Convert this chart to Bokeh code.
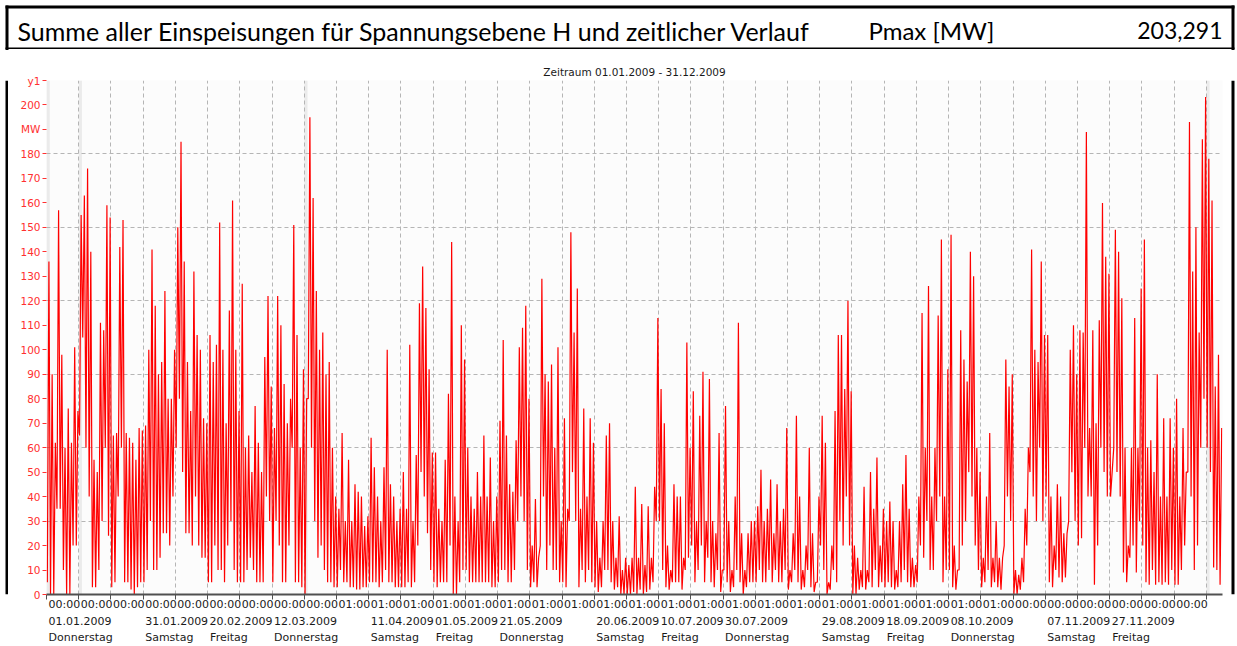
from datetime import date, timedelta

from bokeh.core.properties import value
from bokeh.embed import file_html
from bokeh.layouts import column, row
from bokeh.models import ColumnDataSource, FixedTicker, Grid, LinearAxis, Range1d
from bokeh.plotting import figure
from bokeh.resources import INLINE

# ---------------- data ----------------
title_text = "Summe aller Einspeisungen für Spannungsebene H und zeitlicher Verlauf"
unit_text = "Pmax [MW]"
pmax_text = "203,291"
period_text = "Zeitraum 01.01.2009 - 31.12.2009"
year_start = date(2009, 1, 1)
dst_start = date(2009, 3, 29)
dst_end = date(2009, 10, 25)

# daily maxima / minima of the summed infeed in MW (01.01. .. 31.12.2009)
daily_max = [
    136, 90, 62, 157, 98, 60, 76, 62, 101, 75,
    155, 163, 174, 140, 55, 50, 111, 108, 159, 154,
    65, 66, 142, 153, 66, 64, 62, 55, 68, 67,
    69, 100, 141, 118, 90, 95, 124, 80, 80, 100,
    150, 185, 136, 95, 75, 132, 106, 100, 72, 70,
    106, 95, 102, 152, 100, 70, 116, 161, 100, 75,
    127, 60, 65, 50, 77, 62, 50, 97, 122, 85,
    68, 122, 110, 86, 70, 80, 151, 106, 60, 92,
    80, 195, 162, 124, 100, 107, 90, 95, 60, 40,
    35, 66, 30, 55, 30, 45, 42, 40, 28, 32,
    64, 52, 40, 30, 52, 100, 45, 40, 30, 35,
    50, 35, 102, 30, 57, 119, 134, 117, 92, 58,
    58, 35, 30, 55, 82, 144, 40, 30, 110, 96,
    60, 40, 35, 50, 40, 65, 40, 56, 30, 40,
    71, 104, 65, 45, 42, 63, 101, 109, 118, 80,
    20, 39, 15, 129, 90, 87, 94, 60, 101, 30,
    72, 35, 148, 107, 125, 35, 76, 40, 72, 62,
    30, 15, 30, 65, 70, 30, 15, 32, 10, 15,
    12, 15, 44, 15, 37, 12, 36, 15, 44, 113,
    84, 70, 20, 10, 45, 40, 40, 15, 103, 60,
    83, 30, 73, 91, 30, 88, 30, 25, 66, 10,
    77, 30, 10, 40, 111, 25, 10, 25, 30, 30,
    36, 51, 30, 35, 47, 25, 45, 30, 35, 68,
    10, 25, 73, 40, 10, 20, 60, 25, 5, 40,
    73, 62, 5, 20, 75, 106, 106, 84, 120, 83,
    20, 15, 10, 44, 10, 50, 35, 56, 20, 35,
    30, 38, 30, 10, 30, 45, 57, 35, 15, 12,
    40, 115, 60, 126, 40, 60, 114, 145, 40, 92,
    147, 20, 10, 108, 96, 87, 140, 130, 60, 50,
    15, 40, 66, 15, 30, 15, 15, 96, 85, 90,
    10, 8, 15, 35, 60, 141, 100, 95, 136, 106,
    106, 40, 20, 45, 40, 25, 25, 100, 110, 90,
    108, 107, 189, 68, 108, 70, 112, 160, 138, 131,
    50, 149, 140, 121, 60, 20, 60, 113, 60, 125,
    145, 60, 63, 50, 90, 40, 72, 40, 72, 60,
    80, 40, 68, 50, 193, 132, 150, 107, 186, 203.3,
    178, 161, 85, 98, 68,
]
daily_min = [
    5, 0, 0, 35, 35, 10, 0, 0, 20, 20,
    65, 105, 60, 40, 3, 3, 10, 30, 60, 24,
    3, 5, 40, 60, 5, 5, 2, 0, 3, 5,
    5, 10, 30, 10, 10, 15, 25, 25, 20, 40,
    60, 80, 50, 25, 25, 20, 40, 20, 15, 15,
    5, 5, 20, 10, 10, 5, 20, 30, 10, 5,
    5, 5, 10, 15, 10, 5, 5, 5, 40, 30,
    5, 30, 20, 5, 5, 20, 60, 5, 5, 3,
    0, 80, 60, 30, 15, 20, 10, 5, 5, 3,
    3, 10, 5, 5, 3, 3, 2, 2, 3, 3,
    5, 5, 5, 3, 5, 10, 5, 5, 3, 3,
    3, 3, 5, 3, 5, 20, 50, 40, 25, 10,
    5, 3, 5, 5, 5, 20, 0, 0, 5, 10,
    10, 5, 5, 5, 5, 5, 5, 5, 3, 3,
    5, 10, 10, 5, 5, 10, 30, 40, 30, 10,
    3, 5, 3, 20, 40, 10, 20, 10, 10, 5,
    5, 3, 30, 50, 30, 3, 10, 5, 10, 5,
    3, 1, 3, 10, 10, 5, 2, 3, 0, 0,
    0, 0, 1, 0, 2, 0, 1, 2, 5, 30,
    30, 10, 3, 2, 5, 5, 5, 2, 10, 15,
    20, 5, 10, 20, 5, 15, 5, 3, 10, 1,
    10, 5, 1, 3, 10, 5, 0, 3, 5, 5,
    5, 10, 5, 5, 10, 5, 10, 5, 5, 10,
    2, 5, 10, 5, 2, 3, 10, 3, 1, 5,
    20, 10, 0, 2, 10, 5, 30, 20, 40, 20,
    0, 0, 2, 3, 2, 5, 3, 10, 3, 5,
    3, 5, 3, 2, 3, 5, 10, 5, 3, 3,
    5, 20, 15, 30, 10, 10, 30, 40, 5, 10,
    10, 3, 2, 10, 20, 30, 50, 40, 20, 10,
    3, 5, 10, 3, 5, 3, 2, 20, 40, 30,
    0, 0, 2, 5, 20, 50, 40, 30, 60, 30,
    40, 5, 3, 10, 7, 5, 7, 30, 50, 30,
    20, 23, 60, 40, 40, 4, 20, 60, 50, 40,
    40, 60, 50, 40, 9, 5, 15, 20, 9, 30,
    20, 5, 4, 10, 4, 5, 4, 5, 4, 10,
    4, 4, 10, 20, 50, 40, 10, 20, 60, 80,
    60, 50, 11, 10, 4,
]
highlight_days = [0, 10, 80, 360]           # light grey day bands
tick_days = list(range(0, 361, 10))          # x ticks every 10 days
dated_tick_days = [0, 30, 50, 70, 100, 120, 140, 170, 190, 210, 240, 260, 280, 310, 330]
weekday_names = ["Montag", "Dienstag", "Mittwoch", "Donnerstag", "Freitag", "Samstag", "Sonntag"]
y_ticks = list(range(0, 211, 10))
y_grid_ticks = list(range(30, 211, 30))
y_label_overrides = {190: "MW", 210: "y1"}

# ---------------- layout constants (page pixels) ----------------
PAGE_W, PAGE_H = 1237, 646
HEAD_H = 50                        # header strip height
SIDE_W = 8                         # side strips carrying the black frame
CH_W = PAGE_W - 2 * SIDE_W         # chart width
CH_H = PAGE_H - HEAD_H             # chart height
PX_LEFT, PX_RIGHT, PX_TOP, PX_BOTTOM = 46, 1222, 80, 595   # plot frame in page coordinates
FRAME_X0 = 5
FRAME_T = 3
AX_FONT = "DejaVu Sans"
AX_FS = 11
HEAD_FONT = "Lato"

# DejaVu Sans advance widths (em) for tick label text
_adv = {":": 0.337, ".": 0.318, " ": 0.318, "D": 0.770, "o": 0.612, "n": 0.634, "e": 0.615,
        "r": 0.411, "s": 0.521, "t": 0.392, "a": 0.613, "g": 0.635, "S": 0.635, "m": 0.974,
        "F": 0.575, "i": 0.278}


def text_w(s, fs):
    return sum(_adv.get(ch, 0.636) for ch in s) * fs


ppd = (PX_RIGHT - PX_LEFT) / 365.0


def left_aligned(days, labels):
    """tick positions so that centred labels start 2px right of the tick"""
    ticks, overrides = [], {}
    for d, lab in zip(days, labels):
        pos = round(d + (text_w(lab, AX_FS) / 2 + 2) / ppd, 4)
        if d + (text_w(lab, AX_FS) + 2) / ppd <= 365:
            ticks.append(pos)
            overrides[pos] = lab
    return ticks, overrides


def day_date(d):
    return year_start + timedelta(days=d)


time_labels = ["01:00" if dst_start <= day_date(d) < dst_end else "00:00" for d in tick_days]
date_labels = [day_date(d).strftime("%d.%m.%Y") for d in dated_tick_days]
wd_labels = [weekday_names[day_date(d).weekday()] for d in dated_tick_days]

# series: for every day the minimum and maximum value
xs, ys = [], []
for d in range(365):
    xs += [d + 0.25, d + 0.75]
    ys += [daily_min[d], daily_max[d]]
src = ColumnDataSource(dict(x=xs, y=ys))


def bare(width, height, x_range, y_range):
    f = figure(width=width, height=height, x_range=x_range, y_range=y_range,
               x_axis_type=None, y_axis_type=None, output_backend="svg",
               toolbar_location=None, min_border=0)
    f.outline_line_color = None
    f.grid.visible = False
    f.background_fill_color = "white"
    f.border_fill_color = "white"
    return f


# ---------------- header ----------------
head = bare(PAGE_W, HEAD_H, Range1d(0, PAGE_W), Range1d(HEAD_H, 0))
head.quad(left=[FRAME_X0, FRAME_X0, PAGE_W - 3 - FRAME_T, FRAME_X0],
          right=[PAGE_W - 3, FRAME_X0 + FRAME_T, PAGE_W - 3, PAGE_W - 3],
          top=[5, 5, 5, 47], bottom=[5 + FRAME_T, HEAD_H, HEAD_H, 48.5],
          fill_color="black", line_color=None)
head.text(x=[17], y=[30], text=[title_text], text_font=value(HEAD_FONT),
          text_font_size="25px", text_baseline="middle", text_align="left", text_color="black")
head.text(x=[868], y=[30], text=[unit_text], text_font=value(HEAD_FONT),
          text_font_size="24px", text_baseline="middle", text_align="left", text_color="black")
head.text(x=[1222], y=[30], text=[pmax_text], text_font=value(HEAD_FONT),
          text_font_size="23px", text_baseline="middle", text_align="right", text_color="black")

# ---------------- side strips (black frame) ----------------
left_strip = bare(SIDE_W, CH_H, Range1d(0, SIDE_W), Range1d(0, 1))
left_strip.quad(left=[FRAME_X0], right=[FRAME_X0 + FRAME_T], bottom=[0], top=[1],
                fill_color="black", line_color=None)
right_strip = bare(SIDE_W, CH_H, Range1d(PAGE_W - SIDE_W, PAGE_W), Range1d(0, 1))
right_strip.quad(left=[PAGE_W - 3 - FRAME_T], right=[PAGE_W - 3], bottom=[0], top=[1],
                 fill_color="black", line_color=None)

# ---------------- chart ----------------
p = figure(width=CH_W, height=CH_H, x_range=Range1d(0, 365), y_range=Range1d(0, 210),
           x_axis_type=None, y_axis_type=None, output_backend="svg", toolbar_location=None,
           min_border_left=PX_LEFT - SIDE_W, min_border_right=SIDE_W + CH_W - PX_RIGHT,
           min_border_top=PX_TOP - HEAD_H, min_border_bottom=PAGE_H - PX_BOTTOM)
p.background_fill_color = "#FCFCFC"
p.border_fill_color = "white"
p.outline_line_color = None

p.title.text = period_text
p.title.align = "center"
p.title.offset = 617 - (PX_LEFT + PX_RIGHT) / 2
p.title.text_font = AX_FONT
p.title.text_font_size = "10.5px"
p.title.text_font_style = "normal"
p.title.text_color = "#1A1A1A"
p.title.standoff = 5

# highlighted days
p.quad(left=highlight_days, right=[d + 1 for d in highlight_days], bottom=0, top=210,
       fill_color="#EBEBEB", line_color=None, level="underlay")

# grids
p.add_layout(Grid(dimension=0, ticker=FixedTicker(ticks=tick_days), grid_line_color="#B5B5B5",
                  grid_line_dash="4 3", grid_line_width=1))
p.add_layout(Grid(dimension=1, ticker=FixedTicker(ticks=y_grid_ticks), grid_line_color="#B5B5B5",
                  grid_line_dash="4 3", grid_line_width=1))

# y axis
yaxis = LinearAxis(ticker=FixedTicker(ticks=y_ticks), major_label_overrides=y_label_overrides,
                   axis_line_color=None, major_tick_line_color="#FF3030", major_tick_out=4,
                   major_tick_in=0, minor_tick_line_color=None, major_label_standoff=2,
                   major_label_text_color="#FF3030", major_label_text_font=AX_FONT,
                   major_label_text_font_size="10.5px")
p.add_layout(yaxis, "left")

# x axes: times (with tick marks), dates, weekdays
t_ticks, t_over = left_aligned(tick_days, time_labels)
ax_time = LinearAxis(ticker=FixedTicker(ticks=t_ticks, minor_ticks=tick_days),
                     major_label_overrides=t_over, axis_line_color="#505050", axis_line_width=2,
                     major_tick_line_color=None, major_tick_out=0, major_tick_in=0,
                     minor_tick_line_color="#505050", minor_tick_out=5, minor_tick_in=0,
                     major_label_standoff=-2, major_label_text_color="#1A1A1A",
                     major_label_text_font=AX_FONT, major_label_text_font_size=f"{AX_FS}px")
d_ticks, d_over = left_aligned(dated_tick_days, date_labels)
ax_date = LinearAxis(ticker=FixedTicker(ticks=d_ticks, minor_ticks=[]),
                     major_label_overrides=d_over, axis_line_color=None,
                     major_tick_line_color=None, major_tick_out=0, major_tick_in=0,
                     minor_tick_line_color=None, major_label_standoff=3,
                     major_label_text_color="#1A1A1A", major_label_text_font=AX_FONT,
                     major_label_text_font_size=f"{AX_FS}px")
w_ticks, w_over = left_aligned(dated_tick_days, wd_labels)
ax_wd = LinearAxis(ticker=FixedTicker(ticks=w_ticks, minor_ticks=[]),
                   major_label_overrides=w_over, axis_line_color=None,
                   major_tick_line_color=None, major_tick_out=0, major_tick_in=0,
                   minor_tick_line_color=None, major_label_standoff=3,
                   major_label_text_color="#1A1A1A", major_label_text_font=AX_FONT,
                   major_label_text_font_size=f"{AX_FS}px")
p.add_layout(ax_time, "below")
p.add_layout(ax_date, "below")
p.add_layout(ax_wd, "below")

# data line
p.line("x", "y", source=src, line_color="#FF0000", line_width=1.2)

layout = column(head, row(left_strip, p, right_strip, spacing=0), spacing=0)
open("out.html", "w").write(file_html(layout, INLINE))
